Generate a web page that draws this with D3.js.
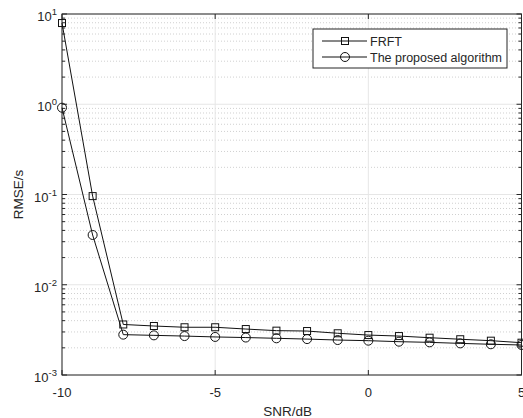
<!DOCTYPE html>
<html>
<head>
<meta charset="utf-8">
<script src="https://cdn.jsdelivr.net/npm/d3@7"></script>
<style>
  body { margin: 0; background: #fff; }
  text { font-family: "Liberation Sans", Arial, sans-serif; fill: #262626; }
</style>
</head>
<body>
<div id="chart"></div>
<script>
  // data
  const snr = [-10, -9, -8, -7, -6, -5, -4, -3, -2, -1, 0, 1, 2, 3, 4, 5];
  const frft = [7.94, 0.096, 0.00363, 0.00349, 0.00338, 0.00338, 0.00323, 0.0031, 0.00307,
    0.0029, 0.00277, 0.0027, 0.00259, 0.00249, 0.0024, 0.00228];
  const proposed = [0.916, 0.0356, 0.0028, 0.00275, 0.0027, 0.00264, 0.0026, 0.00255, 0.0025,
    0.00244, 0.0024, 0.00234, 0.0023, 0.00224, 0.00219, 0.00215];
  const xTicks = [-10, -5, 0, 5];
  const yExp = [-3, -2, -1, 0, 1];
  const seriesNames = ["FRFT", "The proposed algorithm"];

  const width = 523, height = 418;
  const margin = { top: 14, right: 1, bottom: 43, left: 62 };

  const svg = d3.select("#chart").append("svg")
    .attr("width", width)
    .attr("height", height);

  const x = d3.scaleLinear().domain([-10, 5]).range([margin.left, width - margin.right - 0.5]);
  const y = d3.scaleLog().domain([1e-3, 1e1]).range([height - margin.bottom, margin.top]);

  const minor = [];
  yExp.slice(0, -1).forEach(e => {
    for (let k = 2; k <= 9; k++) minor.push(k * Math.pow(10, e));
  });

  const x0 = x.range()[0], x1 = x.range()[1];
  const y0 = y.range()[0], y1 = y.range()[1];

  // grid
  svg.append("g").selectAll("line")
    .data(minor).join("line")
    .attr("x1", x0).attr("x2", x1)
    .attr("y1", d => y(d)).attr("y2", d => y(d))
    .attr("stroke", "#d0d0d0")
    .attr("stroke-dasharray", "1,2");

  svg.append("g").selectAll("line")
    .data(yExp.map(e => Math.pow(10, e))).join("line")
    .attr("x1", x0).attr("x2", x1)
    .attr("y1", d => y(d)).attr("y2", d => y(d))
    .attr("stroke", "#e6e6e6");

  svg.append("g").selectAll("line")
    .data(xTicks).join("line")
    .attr("x1", d => x(d)).attr("x2", d => x(d))
    .attr("y1", y0).attr("y2", y1)
    .attr("stroke", "#e6e6e6");

  // ticks (inside)
  const tk = svg.append("g").attr("stroke", "#262626");
  [[x0, 1], [x1, -1]].forEach(([xx, s]) => {
    tk.selectAll(null).data(yExp.map(e => Math.pow(10, e))).join("line")
      .attr("x1", xx).attr("x2", xx + s * 5)
      .attr("y1", d => y(d)).attr("y2", d => y(d));
    tk.selectAll(null).data(minor).join("line")
      .attr("x1", xx).attr("x2", xx + s * 3)
      .attr("y1", d => y(d)).attr("y2", d => y(d));
  });
  [[y0, -1], [y1, 1]].forEach(([yy, s]) => {
    tk.selectAll(null).data(xTicks).join("line")
      .attr("x1", d => x(d)).attr("x2", d => x(d))
      .attr("y1", yy).attr("y2", yy + s * 5);
  });

  // box
  svg.append("rect")
    .attr("x", x0).attr("y", y1)
    .attr("width", x1 - x0).attr("height", y0 - y1)
    .attr("fill", "none").attr("stroke", "#262626");

  // tick labels
  svg.append("g").selectAll("text")
    .data(xTicks).join("text")
    .attr("x", d => x(d)).attr("y", y0 + 22)
    .attr("text-anchor", "middle")
    .attr("font-size", 13)
    .text(d => d < 0 ? "-" + Math.abs(d) : d);

  const yl = svg.append("g").selectAll("text")
    .data(yExp).join("text")
    .attr("x", x0 - 5).attr("y", d => y(Math.pow(10, d)) + 7)
    .attr("text-anchor", "end")
    .attr("font-size", 13);
  yl.append("tspan").text("10");
  yl.append("tspan").attr("dy", -6).attr("font-size", 9.5).text(d => d);

  // axis labels
  svg.append("text")
    .attr("x", (x0 + x1) / 2 - 4).attr("y", 416)
    .attr("text-anchor", "middle")
    .attr("font-size", 13.5)
    .text("SNR/dB");

  svg.append("text")
    .attr("transform", `translate(23, ${(y0 + y1) / 2}) rotate(-90)`)
    .attr("text-anchor", "middle")
    .attr("font-size", 13.5)
    .text("RMSE/s");

  // series
  const line = d3.line().x((d, i) => x(snr[i])).y(d => y(d));
  const series = [frft, proposed];

  series.forEach((vals, k) => {
    svg.append("path")
      .attr("d", line(vals))
      .attr("fill", "none")
      .attr("stroke", "#111")
      .attr("stroke-width", 1);
    const g = svg.append("g");
    if (k === 0) {
      g.selectAll("rect").data(vals).join("rect")
        .attr("x", (d, i) => x(snr[i]) - 3.5).attr("y", d => y(d) - 3.5)
        .attr("width", 7).attr("height", 7)
        .attr("fill", "none").attr("stroke", "#111");
    } else {
      g.selectAll("circle").data(vals).join("circle")
        .attr("cx", (d, i) => x(snr[i])).attr("cy", d => y(d))
        .attr("r", 4.5)
        .attr("fill", "none").attr("stroke", "#111");
    }
  });

  // legend
  const lg = svg.append("g").attr("transform", "translate(313,29)");
  lg.append("rect")
    .attr("width", 194).attr("height", 39)
    .attr("fill", "#fff").attr("stroke", "#262626");
  seriesNames.forEach((name, k) => {
    const yy = 12 + k * 16;
    lg.append("line")
      .attr("x1", 9).attr("x2", 54).attr("y1", yy).attr("y2", yy)
      .attr("stroke", "#111");
    if (k === 0) {
      lg.append("rect").attr("x", 28.5).attr("y", yy - 3.5)
        .attr("width", 7).attr("height", 7)
        .attr("fill", "none").attr("stroke", "#111");
    } else {
      lg.append("circle").attr("cx", 32).attr("cy", yy).attr("r", 4.5)
        .attr("fill", "none").attr("stroke", "#111");
    }
    lg.append("text")
      .attr("x", 57).attr("y", yy + 4.5)
      .attr("font-size", 12.5)
      .text(name);
  });
</script>
</body>
</html>
